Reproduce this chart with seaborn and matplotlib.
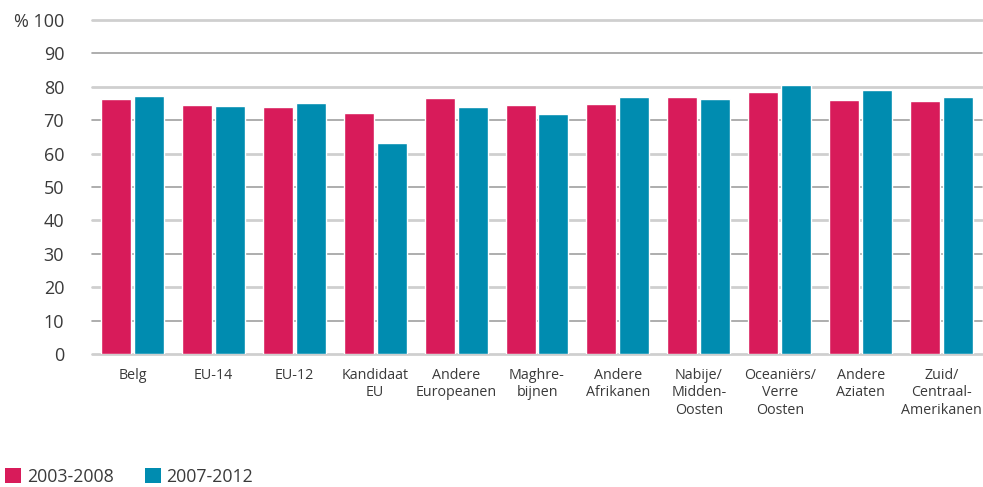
import matplotlib
matplotlib.use("Agg")
import matplotlib.pyplot as plt
from matplotlib.patches import Patch
import seaborn as sns
import pandas as pd

# Share (%) per origin group, two periods
groups = ["Belg", "EU-14", "EU-12", "Kandidaat\nEU", "Andere\nEuropeanen",
          "Maghre-\nbijnen", "Andere\nAfrikanen", "Nabije/\nMidden-\nOosten",
          "Oceaniërs/\nVerre\nOosten", "Andere\nAziaten", "Zuid/\nCentraal-\nAmerikanen"]
periods = ["2003-2008", "2007-2012"]
values_2003_2008 = [76.3, 74.5, 73.9, 72.1, 76.6, 74.5, 74.8, 76.9, 78.4, 76.0, 75.7]
values_2007_2012 = [77.2, 74.2, 75.1, 63.2, 73.9, 71.8, 76.9, 76.3, 80.5, 79.0, 76.9]
y_ticks = [0, 10, 20, 30, 40, 50, 60, 70, 80, 90, 100]
y_tick_labels = ["0", "10", "20", "30", "40", "50", "60", "70", "80", "90", "% 100"]

colors = {"2003-2008": "#D81B5A", "2007-2012": "#008CB0"}
text_color = "#3a3a3a"

df = pd.DataFrame({
    "groep": groups * 2,
    "periode": [periods[0]] * len(groups) + [periods[1]] * len(groups),
    "waarde": values_2003_2008 + values_2007_2012,
})

sns.set_theme(style="white")
plt.rcParams["font.family"] = ["Open Sans", "DejaVu Sans"]

fig = plt.figure(figsize=(9.83, 4.87), dpi=100)
ax = fig.add_axes([92 / 983, 1 - 354.3 / 487, 890 / 983, (354.3 - 19.7) / 487])

sns.barplot(data=df, x="groep", y="waarde", hue="periode", palette=colors,
            width=0.815, gap=0.09, saturation=1, ax=ax, legend=False, zorder=3)

ax.set_ylim(0, 100)
ax.set_xlim(-0.5, len(groups) - 0.5)
ax.set_yticks(y_ticks)
ax.set_yticklabels(y_tick_labels)
ax.set_xlabel("")
ax.set_ylabel("")
for s in ax.spines.values():
    s.set_visible(False)

ax.tick_params(axis="y", length=0, pad=20, labelsize=13, labelcolor=text_color)
ax.tick_params(axis="x", length=0, pad=10, labelsize=10.3, labelcolor=text_color)
for lbl in ax.get_xticklabels():
    lbl.set_multialignment("center")
    lbl.set_linespacing(1.2)

# Horizontal grid: alternating light/dark lines
ax.yaxis.grid(True)
ax.set_axisbelow(True)
for i, gl in enumerate(ax.get_ygridlines()):
    if i % 2 == 0:
        gl.set_color("#cfcfcf")
        gl.set_linewidth(2.0)
    else:
        gl.set_color("#a0a0a0")
        gl.set_linewidth(1.2)
    gl.set_clip_on(False)
    gl.set_zorder(1)

handles = [Patch(facecolor=colors[p], edgecolor="none", label=p) for p in periods]
fig.legend(handles=handles, loc="center left", bbox_to_anchor=(5 / 983, 1 - 477 / 487),
           ncol=2, frameon=False, fontsize=12.8, handlelength=0.9, handleheight=0.9,
           handletextpad=0.33, columnspacing=1.75, borderaxespad=0, borderpad=0,
           labelcolor=text_color)

fig.savefig("out.png", dpi=100)
